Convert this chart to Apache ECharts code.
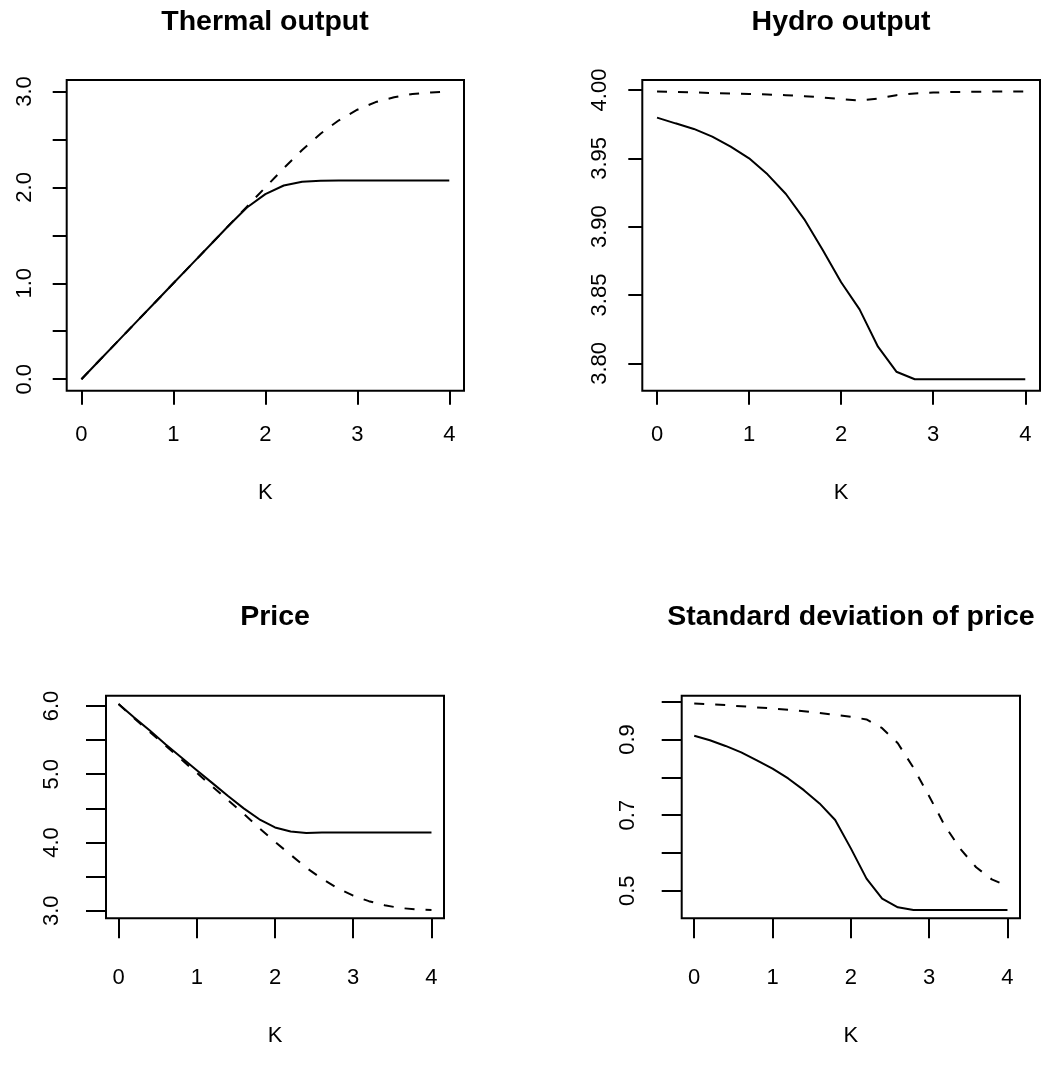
<!DOCTYPE html>
<html>
<head>
<meta charset="utf-8">
<script src="https://cdn.jsdelivr.net/npm/echarts@6/dist/echarts.min.js"></script>
<style>
  html, body { margin: 0; padding: 0; background: #fff; }
  #main { width: 1051px; height: 1070px; }
</style>
</head>
<body>
<div id="main"></div>
<script>
// K values (0 .. 4 by 0.2)
var kValues = [0, 0.2, 0.4, 0.6, 0.8, 1.0, 1.2, 1.4, 1.6, 1.8, 2.0, 2.2, 2.4, 2.6, 2.8, 3.0, 3.2, 3.4, 3.6, 3.8, 4.0];

// thermal output
var thermalSolid = [0, 0.2, 0.4, 0.6, 0.8, 1.0, 1.2, 1.4, 1.6, 1.79, 1.93, 2.02, 2.06, 2.07, 2.072, 2.073, 2.073, 2.073, 2.073, 2.073, 2.073];
var thermalDashed = [0, 0.2, 0.4, 0.6, 0.8, 1.0, 1.2, 1.4, 1.6, 1.8, 2.0, 2.2, 2.39, 2.56, 2.70, 2.81, 2.89, 2.94, 2.975, 2.99, 3.0];

// hydro output
var hydroSolid = [3.9798, 3.9756, 3.9715, 3.9659, 3.9585, 3.9500, 3.9383, 3.9239, 3.9054, 3.8830, 3.8593, 3.8395, 3.8122, 3.7939, 3.7884, 3.7884, 3.7884, 3.7884, 3.7884, 3.7884, 3.7884];
var hydroDashed = [3.9989, 3.9986, 3.9982, 3.9978, 3.9975, 3.9971, 3.9967, 3.9962, 3.9955, 3.9945, 3.9933, 3.9923, 3.9937, 3.9962, 3.9975, 3.9981, 3.9985, 3.9987, 3.9988, 3.9989, 3.9989];

// price
var priceSolid = [6.03, 5.83, 5.64, 5.44, 5.25, 5.06, 4.87, 4.68, 4.50, 4.34, 4.22, 4.16, 4.14, 4.145, 4.147, 4.148, 4.148, 4.148, 4.148, 4.148, 4.148];
var priceDashed = [6.03, 5.82, 5.62, 5.42, 5.22, 5.02, 4.82, 4.62, 4.42, 4.21, 4.01, 3.82, 3.63, 3.47, 3.33, 3.22, 3.14, 3.08, 3.04, 3.02, 3.01];

// standard deviation of price
var sdSolid = [0.910, 0.898, 0.883, 0.866, 0.845, 0.823, 0.797, 0.766, 0.731, 0.687, 0.612, 0.532, 0.479, 0.456, 0.449, 0.449, 0.449, 0.449, 0.449, 0.449, 0.449];
var sdDashed = [0.995, 0.993, 0.991, 0.988, 0.985, 0.982, 0.979, 0.975, 0.970, 0.965, 0.960, 0.953, 0.930, 0.890, 0.825, 0.750, 0.672, 0.610, 0.562, 0.530, 0.512];

var titles = ['Thermal output', 'Hydro output', 'Price', 'Standard deviation of price'];
var xTicks = [0, 1, 2, 3, 4];
var yTicks = [
  [0, 0.5, 1.0, 1.5, 2.0, 2.5, 3.0],
  [3.80, 3.85, 3.90, 3.95, 4.00],
  [3.0, 3.5, 4.0, 4.5, 5.0, 5.5, 6.0],
  [0.5, 0.6, 0.7, 0.8, 0.9, 1.0]
];
var yLabels = [
  [0, 1, 2, 3],
  [3.80, 3.85, 3.90, 3.95, 4.00],
  [3, 4, 5, 6],
  [0.5, 0.7, 0.9]
];
var yDigits = [1, 2, 1, 1];

var FONT = 'Liberation Sans, Arial, Helvetica, sans-serif';

// panel layout (pixels)
var panels = [
  { left: 66.7, top: 80, width: 397.3, height: 310.7, ymin: -0.12, ymax: 3.12, tick: 14, xm: 33, ym: 31, gap: 91, tx: 265, ty: 8 },
  { left: 642.3, top: 80, width: 397.7, height: 310.7, ymin: 3.78, ymax: 4.0073, tick: 14, xm: 33, ym: 31, gap: 91, tx: 841, ty: 8 },
  { left: 106, top: 695.7, width: 338, height: 222.6, ymin: 2.889, ymax: 6.151, tick: 20, xm: 49, ym: 43.5, gap: 107, tx: 275, ty: 603 },
  { left: 681.7, top: 695.7, width: 338.3, height: 222.6, ymin: 0.427, ymax: 1.0159, tick: 20, xm: 49, ym: 43, gap: 107, tx: 851, ty: 603 }
];
var seriesData = [
  [thermalSolid, thermalDashed],
  [hydroSolid, hydroDashed],
  [priceSolid, priceDashed],
  [sdSolid, sdDashed]
];

function pairs(ys) {
  return kValues.map(function (k, i) { return [k, ys[i]]; });
}

var option = {
  animation: false,
  backgroundColor: '#fff',
  title: [],
  grid: [],
  xAxis: [],
  yAxis: [],
  series: []
};

panels.forEach(function (p, i) {
  option.title.push({
    text: titles[i],
    left: p.tx,
    top: p.ty,
    textAlign: 'center',
    padding: 0,
    textStyle: { fontFamily: FONT, fontWeight: 'bold', fontSize: 28.5, color: '#000' }
  });
  option.grid.push({
    left: p.left, top: p.top, width: p.width, height: p.height,
    show: true, borderColor: '#000', borderWidth: 2, backgroundColor: 'transparent'
  });
  option.xAxis.push({
    gridIndex: i,
    type: 'value',
    min: -0.16,
    max: 4.16,
    name: 'K',
    nameLocation: 'middle',
    nameGap: p.gap,
    nameTextStyle: { fontFamily: FONT, fontSize: 22, color: '#000' },
    axisLine: { show: false, onZero: false },
    splitLine: { show: false },
    axisTick: { show: true, inside: false, length: p.tick, customValues: xTicks, lineStyle: { color: '#000', width: 2 } },
    axisLabel: { customValues: xTicks, margin: p.xm, fontFamily: FONT, fontSize: 22, color: '#000' }
  });
  option.yAxis.push({
    gridIndex: i,
    type: 'value',
    min: p.ymin,
    max: p.ymax,
    axisLine: { show: false, onZero: false },
    splitLine: { show: false },
    axisTick: { show: true, inside: false, length: p.tick, customValues: yTicks[i], lineStyle: { color: '#000', width: 2 } },
    axisLabel: {
      customValues: yLabels[i],
      rotate: 90,
      margin: p.ym,
      fontFamily: FONT, fontSize: 22, color: '#000',
      formatter: function (v) { return Number(v).toFixed(yDigits[i]); }
    }
  });
  option.series.push({
    type: 'line', xAxisIndex: i, yAxisIndex: i,
    data: pairs(seriesData[i][0]),
    showSymbol: false, symbol: 'none',
    lineStyle: { color: '#000', width: 2, type: 'solid' }
  });
  option.series.push({
    type: 'line', xAxisIndex: i, yAxisIndex: i,
    data: pairs(seriesData[i][1]),
    showSymbol: false, symbol: 'none',
    lineStyle: { color: '#000', width: 2, type: [10, 11] }
  });
});

var myChart = echarts.init(document.getElementById('main'), null, { renderer: 'canvas' });
myChart.setOption(option);
</script>
</body>
</html>
